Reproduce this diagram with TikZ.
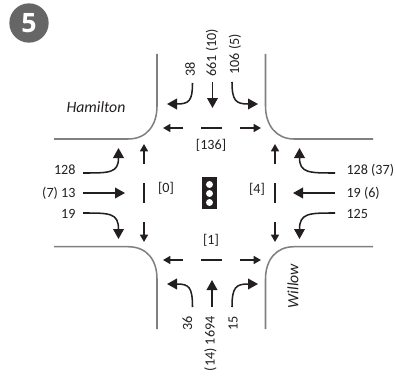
\documentclass[tikz,border=0pt]{standalone}
\usepackage{fontspec}
\setmainfont{Carlito}
\newfontfamily\badgefont{Open Sans}
\usetikzlibrary{arrows.meta}

\tikzset{every picture/.style={line width=0.75pt}}
\tikzset{
  road/.style={color={rgb, 255:red, 128; green, 128; blue, 128 },line width=1.15pt},
  flow/.style={color={rgb, 255:red, 35; green, 31; blue, 32 },line width=1.15pt,-{Triangle[length=7.5pt,width=8pt]}},
  lane/.style={color={rgb, 255:red, 35; green, 31; blue, 32 },line width=1.15pt,-{Triangle[length=5.5pt,width=6pt]}},
  bar/.style={color={rgb, 255:red, 35; green, 31; blue, 32 },line width=1.15pt},
  lbl/.style={inner sep=0pt,font=\fontsize{10.6}{12}\selectfont,text={rgb, 255:red, 35; green, 31; blue, 32 }},
  street/.style={lbl,font=\fontsize{11.8}{12}\selectfont\itshape},
}

\begin{document}
\begin{tikzpicture}[x=0.75pt,y=0.75pt,yscale=-1,xscale=1]
\useasboundingbox (0,0) rectangle (396,385);

%Shape: Badge
\node (badge) [circle,fill={rgb, 255:red, 102; green, 102; blue, 102 },minimum size=29.5pt,inner sep=0pt,text=white,font=\badgefont\fontsize{20}{20}\selectfont\bfseries] at (29,23) {5};

%Shape: Curb corners
\draw [road] (157,54) -- (157,106) .. controls (157,125) and (147,139) .. (128,139) -- (54,139) ;
\draw [road] (265.5,54) -- (265.5,106) .. controls (265.5,125) and (276,139) .. (294,139) -- (373,139) ;
\draw [road] (157,329) -- (157,279) .. controls (157,260) and (147,246.7) .. (128,246.7) -- (54,246.7) ;
\draw [road] (265.5,329) -- (265.5,279) .. controls (265.5,260) and (276,246.7) .. (294,246.7) -- (373,246.7) ;

%Shape: Signal
\node (signal) [fill={rgb, 255:red, 35; green, 31; blue, 32 },minimum width=11.25pt,minimum height=24pt,inner sep=0pt] at (209.5,193) {};
\fill [white] (209.5,184.5) circle (2.6pt) (209.5,193.5) circle (2.6pt) (209.5,202.5) circle (2.6pt) ;

% Text Node
\node (hamilton) [street] at (96,107.5) {Hamilton};
\node (willow) [street,rotate=90] at (293,286) {Willow};
\node (pednorth) [lbl] at (211,145) {[136]};
\node (pedwest) [lbl] at (166,188.5) {[0]};
\node (pedeast) [lbl] at (257,189) {[4]};
\node (pedsouth) [lbl] at (211,240) {[1]};
\node (n38) [lbl,rotate=90,anchor=west] at (190,77) {38};
\node (n661) [lbl,rotate=90,anchor=west] at (212,77) {661 (10)};
\node (n106) [lbl,rotate=90,anchor=west] at (235,75) {106 (5)};
\node (w128) [lbl,anchor=east] at (76,170) {128};
\node (w13) [lbl,anchor=east] at (76,193) {(7) 13};
\node (w19) [lbl,anchor=east] at (76,214) {19};
\node (e128) [lbl,anchor=west] at (346,170) {128 (37)};
\node (e19) [lbl,anchor=west] at (346,193) {19 (6)};
\node (e125) [lbl,anchor=west] at (346,214) {125};
\node (s36) [lbl,rotate=90,anchor=east] at (187.5,316) {36};
\node (s1694) [lbl,rotate=90,anchor=east] at (210.5,316) {(14) 1694};
\node (s15) [lbl,rotate=90,anchor=east] at (233,316) {15};

%Straight Lines: approach ends
\coordinate (a38) at (192.5,83);   \coordinate (b38) at (167,104);
\coordinate (a661) at (212.5,82);  \coordinate (b661) at (212.5,108);
\coordinate (a106) at (232,82);    \coordinate (b106) at (258,104);
\coordinate (a128) at (83,173);    \coordinate (b128) at (118.5,148);
\coordinate (a13) at (83,193);     \coordinate (b13) at (125,193);
\coordinate (a19) at (83,213);     \coordinate (b19) at (118.5,239);
\coordinate (c128) at (335,173);   \coordinate (d128) at (299.5,148);
\coordinate (c19) at (335,193);    \coordinate (d19) at (293,193);
\coordinate (c125) at (335,213);   \coordinate (d125) at (299.5,239);
\coordinate (a36) at (192.5,307);  \coordinate (b36) at (167,284);
\coordinate (a1694) at (212,307);  \coordinate (b1694) at (212,280);
\coordinate (a15) at (232,307);    \coordinate (b15) at (258,284);

%Straight Lines: turning and through arrows
\draw [flow] (a38) .. controls (192.5,101) and (189,104) .. (b38) ;
\draw [flow] (a661) -- (b661) ;
\draw [flow] (a106) .. controls (232,101) and (236,104) .. (b106) ;
\draw [flow] (a128) .. controls (110,173) and (118.5,173) .. (b128) ;
\draw [flow] (a13) -- (b13) ;
\draw [flow] (a19) .. controls (110,213) and (118.5,213) .. (b19) ;
\draw [flow] (c128) .. controls (309,173) and (299.5,173) .. (d128) ;
\draw [flow] (c19) -- (d19) ;
\draw [flow] (c125) .. controls (309,213) and (299.5,213) .. (d125) ;
\draw [flow] (a36) .. controls (192.5,287) and (189,284) .. (b36) ;
\draw [flow] (a1694) -- (b1694) ;
\draw [flow] (a15) .. controls (232,287) and (236,284) .. (b15) ;

%Straight Lines: crossing arrows
\coordinate (nl1) at (183,128);  \coordinate (nl2) at (163,128);
\coordinate (nm1) at (201,128);  \coordinate (nm2) at (222,128);
\coordinate (nr1) at (240,128);  \coordinate (nr2) at (261,128);
\coordinate (sl1) at (183,260);  \coordinate (sl2) at (163,260);
\coordinate (sm1) at (201,260);  \coordinate (sm2) at (222,260);
\coordinate (sr1) at (240,260);  \coordinate (sr2) at (261,260);
\coordinate (wu1) at (144,164);  \coordinate (wu2) at (144,144);
\coordinate (wm1) at (144,183);  \coordinate (wm2) at (144,203);
\coordinate (wd1) at (144,222);  \coordinate (wd2) at (144,242);
\coordinate (eu1) at (275,164);  \coordinate (eu2) at (275,144);
\coordinate (em1) at (275,183);  \coordinate (em2) at (275,203);
\coordinate (ed1) at (275,222);  \coordinate (ed2) at (275,242);
\draw [lane] (nl1) -- (nl2) ;
\draw [bar] (nm1) -- (nm2) ;
\draw [lane] (nr1) -- (nr2) ;
\draw [lane] (sl1) -- (sl2) ;
\draw [bar] (sm1) -- (sm2) ;
\draw [lane] (sr1) -- (sr2) ;
\draw [lane] (wu1) -- (wu2) ;
\draw [bar] (wm1) -- (wm2) ;
\draw [lane] (wd1) -- (wd2) ;
\draw [lane] (eu1) -- (eu2) ;
\draw [bar] (em1) -- (em2) ;
\draw [lane] (ed1) -- (ed2) ;

\end{tikzpicture}
\end{document}
